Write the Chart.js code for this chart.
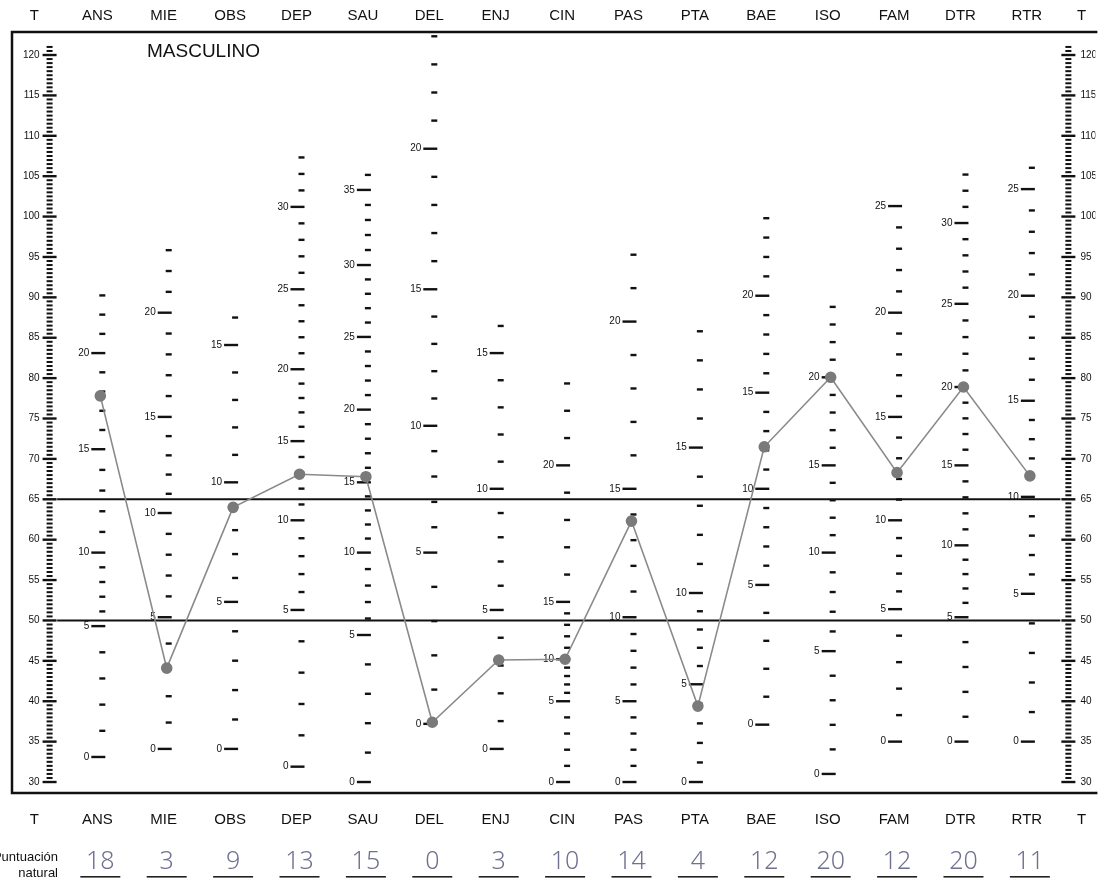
<!DOCTYPE html>
<html>
<head>
<meta charset="utf-8">
<script src="https://cdn.jsdelivr.net/npm/chart.js@4/dist/chart.umd.min.js"></script>
<style>
  html, body { margin: 0; padding: 0; background: #fff; }
  #wrap { width: 1102px; height: 883px; }
</style>
</head>
<body>
<div id="wrap"><canvas id="c" width="1102" height="883"></canvas></div>
<script>
// ---------------- data ----------------
const scaleNames = ['ANS','MIE','OBS','DEP','SAU','DEL','ENJ','CIN','PAS','PTA','BAE','ISO','FAM','DTR','RTR'];
const tScores    = [77.8, 44.1, 64.0, 68.1, 67.8, 37.4, 45.1, 45.2, 62.3, 39.4, 71.5, 80.1, 68.3, 78.9, 67.9];
const rawScores  = ['18','3','9','13','15','0','3','10','14','4','12','20','12','20','11'];
const rawMax     = [23, 23, 16, 33, 36, 24, 16, 23, 22, 19, 24, 24, 25, 33, 26];
const refLines   = [50, 65];
const tTickLabels = [30,35,40,45,50,55,60,65,70,75,80,85,90,95,100,105,110,115,120];

// T value of the raw-score marks 0,5,10,15,... for each scale column
const ansT = [33.1, 49.3, 58.4, 71.2, 83.1];
const mieT = [34.1, 50.4, 63.3, 75.2, 88.1];
const obsT = [34.1, 52.3, 67.1, 84.1];
const depT = [31.9, 51.3, 62.4, 72.2, 81.1, 91.0, 101.2];
const sauT = [30.0, 48.2, 58.4, 67.1, 76.1, 85.1, 94.0, 103.3];
const delT = [37.2, 58.4, 74.1, 91.0, 108.4];
const enjT = [34.1, 51.3, 66.3, 83.1];
const cinT = [30.0, 40.0, 45.2, 52.3, 69.2];
const pasT = [30.0, 40.0, 50.4, 66.3, 87.0];
const ptaT = [30.0, 42.1, 53.4, 71.4];
const baeT = [37.1, 54.4, 66.3, 78.2, 90.2];
const isoT = [31.0, 46.2, 58.4, 69.2, 80.1];
const famT = [35.0, 51.4, 62.4, 75.2, 88.1, 101.3];
const dtrT = [35.0, 50.4, 59.3, 69.2, 78.9, 89.2, 99.2];
const rtrT = [35.0, 53.3, 65.3, 77.2, 90.2, 103.4];
const rawMarkT = [ansT, mieT, obsT, depT, sauT, delT, enjT, cinT, pasT, ptaT, baeT, isoT, famT, dtrT, rtrT];

// ---------------- helpers ----------------
const NARROW = '"Liberation Sans Narrow", "Liberation Sans", Arial, sans-serif';
const SANS = '"Liberation Sans", Arial, sans-serif';
const LEFT_AXIS_X = 0.236, RIGHT_AXIS_X = 15.58;

function rawToT(marks, r) {
  const k = Math.floor(r / 5);
  if (k < marks.length - 1) {
    const f = (r - k * 5) / 5;
    return marks[k] + f * (marks[k + 1] - marks[k]);
  }
  const last = marks.length - 1;
  const step = (marks[last] - marks[last - 1]) / 5;
  return marks[last] + (r - last * 5) * step;
}

const formPlugin = {
  id: 'form',
  beforeDatasetsDraw(chart) {
    const {ctx, chartArea: ca, scales: {x, y}} = chart;
    ctx.save();
    ctx.beginPath();
    ctx.rect(ca.left, ca.top, ca.right - ca.left, ca.bottom - ca.top);
    ctx.clip();
    ctx.fillStyle = '#111';
    ctx.textBaseline = 'middle';

    // T axes (left and right)
    [LEFT_AXIS_X, RIGHT_AXIS_X].forEach((ax, side) => {
      const cx = x.getPixelForValue(ax);
      for (let t = 30; t <= 121; t += 0.5) {
        const py = y.getPixelForValue(t);
        if (t % 5 === 0) ctx.fillRect(cx - 7, py - 1.2, 14, 2.4);
        else ctx.fillRect(cx - 3, py - 1, 6, 2);
      }
      ctx.font = '10px ' + NARROW;
      ctx.textAlign = side === 0 ? 'right' : 'left';
      tTickLabels.forEach(t => {
        const py = y.getPixelForValue(t);
        ctx.fillText(String(t), side === 0 ? cx - 10 : cx + 12, py);
      });
    });

    // raw score columns
    ctx.font = '10px ' + NARROW;
    ctx.textAlign = 'right';
    rawMarkT.forEach((marks, i) => {
      const cx = x.getPixelForValue(i + 1) + 2;
      for (let r = 0; r <= rawMax[i]; r++) {
        const py = y.getPixelForValue(rawToT(marks, r));
        if (r % 5 === 0) {
          ctx.fillRect(cx - 11, py - 1.2, 14, 2.4);
          ctx.fillText(String(r), cx - 13, py);
        } else {
          ctx.fillRect(cx - 3, py - 1.2, 6, 2.4);
        }
      }
    });
    ctx.restore();

    // frame
    ctx.save();
    ctx.strokeStyle = '#111';
    ctx.lineWidth = 2.5;
    ctx.beginPath();
    ctx.moveTo(ca.right + 2, ca.top);
    ctx.lineTo(ca.left, ca.top);
    ctx.lineTo(ca.left, ca.bottom);
    ctx.lineTo(ca.right + 2, ca.bottom);
    ctx.stroke();
    ctx.restore();
  },
  afterDraw(chart) {
    const {ctx, chartArea: ca, scales: {x}} = chart;
    ctx.save();
    ctx.fillStyle = '#111';
    ctx.textBaseline = 'middle';
    ctx.textAlign = 'center';
    ctx.font = '15px ' + NARROW;
    const heads = ['T'].concat(scaleNames, ['T']);
    const headX = [LEFT_AXIS_X - 0.23].concat(scaleNames.map((s, i) => i + 1), [RIGHT_AXIS_X + 0.2]);
    heads.forEach((h, k) => {
      const px = x.getPixelForValue(headX[k]) - (k > 0 && k < heads.length - 1 ? 3 : 0);
      ctx.fillText(h, px, 16);
      ctx.fillText(h, px, ca.bottom + 27);
    });

    // title inside
    ctx.textAlign = 'left';
    ctx.font = '19px ' + SANS;
    ctx.fillText('MASCULINO', 147, 52);

    // raw score row
    ctx.textAlign = 'right';
    ctx.font = '13px ' + NARROW;
    ctx.fillText('Puntuación', 58, 857);
    ctx.fillText('natural', 58, 873);

    ctx.textAlign = 'center';
    rawScores.forEach((v, i) => {
      const px = x.getPixelForValue(i + 1);
      ctx.fillStyle = '#6f7190';
      ctx.font = '300 25px "Noto Sans", "DejaVu Sans", sans-serif';
      ctx.fillText(v, px, 862);
      ctx.fillStyle = '#222';
      ctx.fillRect(px - 20, 876, 40, 1.6);
    });
    ctx.restore();
  }
};

const profileData = scaleNames.map((s, i) => ({x: i + 1, y: tScores[i]}));
const refDatasets = refLines.map(v => ({
  type: 'line',
  data: [{x: 0.35, y: v}, {x: 15.46, y: v}],
  borderColor: '#111',
  borderWidth: 2,
  pointRadius: 0,
  showLine: true,
  order: 2
}));

new Chart(document.getElementById('c'), {
  type: 'scatter',
  data: {
    datasets: [
      {
        type: 'line',
        data: profileData,
        borderColor: '#8a8a8a',
        borderWidth: 1.6,
        pointRadius: 5,
        pointBackgroundColor: '#7a7a7a',
        pointBorderColor: '#7a7a7a',
        showLine: true,
        tension: 0,
        order: 1
      }
    ].concat(refDatasets)
  },
  options: {
    responsive: false,
    animation: false,
    devicePixelRatio: 1,
    layout: {padding: {left: 12, right: 0, top: 32, bottom: 90}},
    scales: {
      x: {type: 'linear', min: -0.33, max: 15.987, display: false},
      y: {type: 'linear', min: 28.64, max: 122.85, display: false}
    },
    plugins: {legend: {display: false}, tooltip: {enabled: false}}
  },
  plugins: [formPlugin]
});
</script>
</body>
</html>
